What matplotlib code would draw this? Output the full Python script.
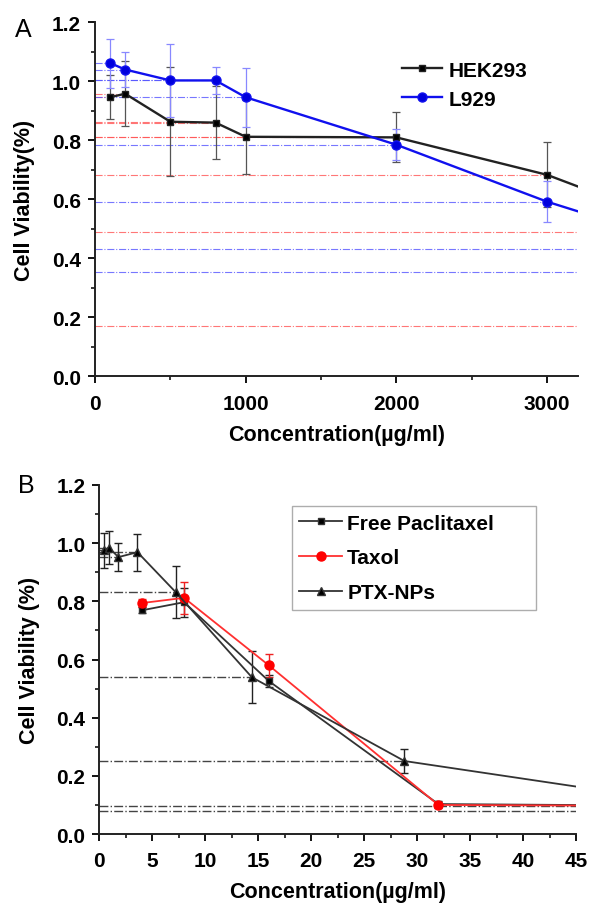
import matplotlib
matplotlib.use("Agg")
import matplotlib.pyplot as plt
from matplotlib.ticker import MultipleLocator, FormatStrFormatter

plt.rcParams['font.family'] = ['Liberation Sans', 'DejaVu Sans']

###########################
# Données
###########################

# A : cytotoxicité du support
conc_a = [100, 200, 500, 800, 1000, 2000, 3000, 4000, 5000]  # µg/ml
hek = [0.946, 0.958, 0.863, 0.860, 0.812, 0.810, 0.683, 0.49, 0.17]
hek_err = [0.075, 0.11, 0.185, 0.123, 0.125, 0.085, 0.11, 0, 0]
l929 = [1.062, 1.040, 1.003, 1.003, 0.946, 0.785, 0.592, 0.432, 0.353]
l929_err = [0.083, 0.06, 0.125, 0.045, 0.1, 0.052, 0.07, 0, 0]

# B : paclitaxel
conc_free = [4, 8, 16, 32, 64]
free = [0.769, 0.797, 0.526, 0.103, 0.095]
free_err = [0.01, 0.05, 0.02, 0.01, 0]
taxol = [0.794, 0.812, 0.58, 0.1, 0.095]
taxol_err = [0.015, 0.055, 0.04, 0.01, 0]
conc_ptx = [0.45, 0.9, 1.8, 3.6, 7.2, 14.4, 28.8, 57.6, 115.2]
ptx = [0.975, 0.985, 0.952, 0.969, 0.832, 0.539, 0.251, 0.095, 0.08]
ptx_err = [0.06, 0.057, 0.048, 0.063, 0.088, 0.09, 0.042, 0, 0]

fig = plt.figure(figsize=(5.89, 9.04), dpi=100)
ax_a = fig.add_axes([0.1613, 0.5826, 0.82, 0.3916])
ax_b = fig.add_axes([0.1686, 0.0763, 0.8094, 0.3861])


def style_axes(ax):
    for s in ["top", "right"]:
        ax.spines[s].set_visible(False)
    for s in ["left", "bottom"]:
        ax.spines[s].set_linewidth(1.4)
        ax.spines[s].set_color("#222222")
    ax.tick_params(which="major", direction="out", length=5, width=1.3, labelsize=15)
    ax.tick_params(which="minor", direction="out", length=3, width=1.1)
    ax.tick_params(axis="x", which="major", pad=7.5)
    ax.tick_params(axis="y", which="major", pad=5)
    for lab in ax.get_xticklabels() + ax.get_yticklabels():
        lab.set_fontweight("bold")
    ax.yaxis.set_major_locator(MultipleLocator(0.2))
    ax.yaxis.set_minor_locator(MultipleLocator(0.1))
    ax.yaxis.set_major_formatter(FormatStrFormatter("%.1f"))


###########################
# Figure A
###########################

ax_a.hlines(hek, 0, conc_a, colors="#ff5555", linestyles="-.", linewidth=0.8, alpha=0.8)
ax_a.hlines(l929, 0, conc_a, colors="#5555ff", linestyles="-.", linewidth=0.8, alpha=0.8)

ax_a.errorbar(conc_a, hek, yerr=hek_err, fmt="none", ecolor="#555555", elinewidth=0.9, capsize=3, capthick=0.9)
ax_a.errorbar(conc_a, l929, yerr=l929_err, fmt="none", ecolor="#8888ff", elinewidth=0.9, capsize=3, capthick=0.9)
ax_a.plot(conc_a, hek, "-s", color="#222222", markerfacecolor="black", markersize=5, linewidth=1.7, label="HEK293")
ax_a.plot(conc_a, l929, "-o", color="#1010ee", markerfacecolor="#0000dd", markersize=6.5, linewidth=1.7, label="L929")

ax_a.set_xlim(0, 3205)
ax_a.set_ylim(0, 1.2)
ax_a.xaxis.set_major_locator(MultipleLocator(1000))
ax_a.xaxis.set_minor_locator(MultipleLocator(500))
style_axes(ax_a)
ax_a.set_xlabel("Concentration(µg/ml)", fontsize=15.5, fontweight="bold", labelpad=8)
ax_a.set_ylabel("Cell Viability(%)", fontsize=15.5, fontweight="bold", labelpad=12)
ax_a.legend(loc="upper left", bbox_to_anchor=(0.635, 0.892), frameon=False,
            prop={"weight": "bold", "size": 15}, handlelength=1.95, handletextpad=0.28,
            labelspacing=0.49, borderaxespad=0, borderpad=0)
fig.text(0.04, 0.967, "A", fontsize=18, ha="center", va="center")

###########################
# Figure B
###########################

ax_b.hlines(ptx, 0, conc_ptx, colors="#444444", linestyles="-.", linewidth=1.0)

ax_b.errorbar(conc_free, free, yerr=free_err, fmt="none", ecolor="#222222", elinewidth=1.0, capsize=3, capthick=1.0)
ax_b.errorbar(conc_free, taxol, yerr=taxol_err, fmt="none", ecolor="#ee2222", elinewidth=1.0, capsize=3, capthick=1.0)
ax_b.errorbar(conc_ptx, ptx, yerr=ptx_err, fmt="none", ecolor="#222222", elinewidth=1.0, capsize=3, capthick=1.0)
ax_b.plot(conc_free, free, "-s", color="#333333", markerfacecolor="black", markersize=5, linewidth=1.3,
          label="Free Paclitaxel")
ax_b.plot(conc_free, taxol, "-o", color="#ff3030", markerfacecolor="#ff0000", markeredgecolor="#ff0000",
          markersize=6.5, linewidth=1.3, label="Taxol")
ax_b.plot(conc_ptx, ptx, "-^", color="#333333", markerfacecolor="black", markersize=5.5, linewidth=1.3,
          label="PTX-NPs")

ax_b.set_xlim(0, 45)
ax_b.set_ylim(0, 1.2)
ax_b.xaxis.set_major_locator(MultipleLocator(5))
ax_b.xaxis.set_minor_locator(MultipleLocator(2.5))
style_axes(ax_b)
ax_b.set_xlabel("Concentration(µg/ml)", fontsize=15.5, fontweight="bold", labelpad=8)
ax_b.set_ylabel("Cell Viability (%)", fontsize=15.5, fontweight="bold", labelpad=12)
leg = ax_b.legend(loc="upper left", bbox_to_anchor=(0.4036, 0.656, 0.5124, 0.283), mode="expand",
                  frameon=True, fancybox=False,
                  prop={"weight": "bold", "size": 15}, handlelength=2.07, handletextpad=0.24,
                  labelspacing=0.76, borderaxespad=0, borderpad=0.35)
leg.get_frame().set_edgecolor("#999999")
leg.get_frame().set_linewidth(1.0)
fig.text(0.045, 0.462, "B", fontsize=18, ha="center", va="center")

fig.savefig("out.png", dpi=100)
